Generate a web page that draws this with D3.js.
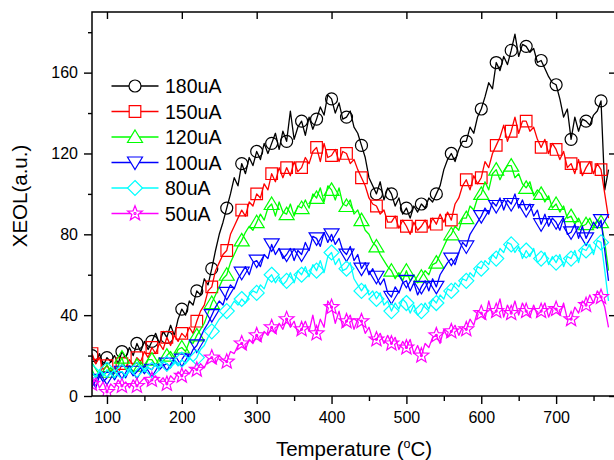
<!DOCTYPE html>
<html>
<head>
<meta charset="utf-8">
<script src="https://cdn.jsdelivr.net/npm/d3@7"></script>
<style>
  body { margin: 0; background: #fff; }
  svg { display: block; }
  text { font-family: "Liberation Sans", Arial, sans-serif; fill: #000; }
</style>
</head>
<body>
<svg id="chart" width="614" height="460"></svg>
<script>
// Temperature grid (°C), one reading every 5 degrees
const temperature = d3.range(80, 771, 5);

// XEOL intensity (a.u.) per beam current
const i180 = [20,16,21,15,19,17,20,16,22,19,
  24,20,26,22,27,23,27,31,26,32,
  29,35,30,38,43,40,47,45,52,50,
  58,55,63,72,80,86,93,100,108,104,
  115,110,118,114,121,117,125,120,125,130,
  122,131,126,141,127,133,136,129,138,132,
  137,143,139,149,147,140,145,137,138,141,
  133,130,124,118,108,104,100,106,97,103,
  100,94,98,90,93,88,94,91,95,93,
  98,96,100,104,112,117,120,116,122,126,
  126,133,130,138,142,148,155,152,165,161,
  168,164,171,179,168,174,173,170,172,165,
  166,162,158,155,154,147,138,142,127,138,
  131,137,136,134,139,141,146,102,112];

const i150 = [21,16,19,13,15,12,14,11,16,14,
  18,15,19,17,22,19,24,21,26,23,
  29,25,30,27,31,29,34,31,37,42,
  45,52,54,62,66,70,72,80,84,88,
  92,89,96,94,100,98,105,102,110,106,
  113,108,113,109,116,111,113,118,115,121,
  123,116,125,118,119,122,116,121,120,115,
  117,112,108,104,98,95,94,90,92,86,
  86,89,83,87,84,80,86,82,84,87,
  83,88,85,90,86,91,87,95,98,104,
  107,102,109,105,108,116,113,120,124,128,
  134,126,131,138,130,136,136,131,133,127,
  123,127,120,125,122,117,121,113,115,110,
  117,109,113,116,110,115,112,100,88];

const i120 = [13,9,12,10,12,14,11,15,19,13,
  15,12,15,17,14,18,18,15,19,17,
  20,22,19,23,24,22,27,26,30,33,
  36,41,46,50,54,58,60,66,70,74,
  77,81,84,82,86,90,87,93,95,89,
  96,91,90,95,89,94,93,97,93,100,
  98,103,96,104,102,97,103,95,94,97,
  90,92,87,82,80,76,74,70,67,64,
  62,58,61,57,62,57,60,56,59,62,
  60,65,66,70,74,78,80,84,82,88,
  88,94,92,98,100,106,102,110,112,107,
  111,114,114,108,110,105,103,106,99,102,
  100,96,99,93,95,91,94,88,89,85,
  88,84,85,88,84,87,86,76,62];

const i100 = [8,4,10,7,9,12,8,11,12,9,
  13,10,12,14,11,14,13,16,13,15,
  16,14,18,15,18,21,19,23,25,29,
  33,36,40,44,47,45,51,55,53,58,
  61,64,60,66,67,64,70,68,75,70,
  73,68,70,73,67,72,70,76,72,79,
  78,74,81,76,80,75,78,72,70,74,
  67,70,63,66,60,63,59,55,58,51,
  49,54,51,56,57,52,56,50,54,57,
  52,58,54,60,63,66,68,65,71,76,
  74,80,83,86,89,93,90,96,94,98,
  92,97,95,100,93,97,92,95,89,92,
  85,90,84,88,86,82,88,80,81,85,
  78,84,78,82,86,83,87,72,57];

const i80 = [12,9,13,10,13,11,9,12,12,10,
  14,11,13,15,12,14,13,16,14,17,
  16,14,17,15,18,16,19,17,19,23,
  25,29,32,35,38,40,42,44,47,45,
  48,46,50,52,51,55,53,58,60,56,
  59,55,57,61,56,62,60,64,59,65,
  62,67,61,69,71,65,68,62,63,66,
  58,55,52,55,50,52,48,51,45,47,
  42,46,43,48,46,41,45,40,42,46,
  43,48,46,50,48,53,52,56,54,58,
  57,61,59,64,63,67,65,70,68,73,
  71,76,75,71,74,68,72,69,73,66,
  68,71,65,69,66,70,64,69,68,72,
  66,73,72,75,70,77,76,62,47];

const i50 = [6,9,4,7,2,6,4,8,5,7,
  4,8,5,7,9,6,8,10,7,9,
  6,10,8,12,10,13,11,14,13,16,
  14,18,19,16,20,18,17,22,21,25,
  26,23,28,26,30,27,32,30,34,31,
  36,33,38,34,37,31,33,37,32,40,
  31,38,34,47,44,36,42,34,37,40,
  33,38,37,31,34,28,28,31,26,30,
  26,29,23,27,24,28,21,25,20,26,
  24,29,30,26,33,29,32,35,30,34,
  33,38,35,42,41,38,47,40,42,48,
  39,45,41,47,40,46,42,39,45,40,
  42,46,39,44,43,40,46,38,38,44,
  41,47,45,50,46,52,49,44,34];

const seriesNames = ["180uA", "150uA", "120uA", "100uA", "80uA", "50uA"];
const seriesValues = [i180, i150, i120, i100, i80, i50];
const seriesColors = ["#000000", "#ff0000", "#00ff00", "#0000ff", "#00ffff", "#ff00ff"];
const seriesMarkers = ["circle", "square", "triangleUp", "triangleDown", "diamond", "star"];

const xMajorTicks = [100, 200, 300, 400, 500, 600, 700];
const xMinorTicks = [150, 250, 350, 450, 550, 650, 750];
const yMajorTicks = [0, 40, 80, 120, 160];
const yMinorTicks = [20, 60, 100, 140, 180];
const markerEvery = 20; // one symbol every 20 °C

const svg = d3.select("#chart");
const plot = { left: 92, right: 616, top: 12, bottom: 396 };

const x = d3.scaleLinear().domain([80, 780]).range([plot.left, plot.right]);
const y = d3.scaleLinear().domain([0, 190]).range([plot.bottom, plot.top]);

// marker shapes, centred on the data point
function markerPath(kind) {
  const p = d3.path();
  if (kind === "circle") {
    p.moveTo(6, 0); p.arc(0, 0, 6, 0, 2 * Math.PI);
  } else if (kind === "square") {
    p.rect(-5.8, -5.8, 11.6, 11.6);
  } else if (kind === "triangleUp") {
    p.moveTo(0, -7); p.lineTo(7.5, 5.5); p.lineTo(-7.5, 5.5); p.closePath();
  } else if (kind === "triangleDown") {
    p.moveTo(0, 7); p.lineTo(7.5, -5.5); p.lineTo(-7.5, -5.5); p.closePath();
  } else if (kind === "diamond") {
    p.moveTo(0, -7.5); p.lineTo(7.5, 0); p.lineTo(0, 7.5); p.lineTo(-7.5, 0); p.closePath();
  } else if (kind === "star") {
    for (let k = 0; k < 10; k++) {
      const r = k % 2 === 0 ? 7.8 : 3.3;
      const a = -Math.PI / 2 + k * Math.PI / 5;
      const px = r * Math.cos(a), py = r * Math.sin(a);
      if (k === 0) p.moveTo(px, py); else p.lineTo(px, py);
    }
    p.closePath();
    p.moveTo(1, 0); p.arc(0, 0, 1, 0, 2 * Math.PI);
  }
  return p.toString();
}

svg.append("defs").append("clipPath").attr("id", "plot-clip")
  .append("rect")
  .attr("x", plot.left).attr("y", plot.top)
  .attr("width", plot.right - plot.left).attr("height", plot.bottom - plot.top);

const dataLayer = svg.append("g").attr("clip-path", "url(#plot-clip)");

const line = d3.line()
  .x(d => x(d.t))
  .y(d => y(d.v));

seriesNames.forEach((name, i) => {
  const pts = temperature.map((t, j) => ({ t, v: seriesValues[i][j] }));
  const g = dataLayer.append("g").attr("class", "series");
  g.append("path")
    .datum(pts)
    .attr("d", line)
    .attr("fill", "none")
    .attr("stroke", seriesColors[i])
    .attr("stroke-width", 1.3)
    .attr("stroke-linejoin", "round");
  g.selectAll("path.marker")
    .data(pts.filter(d => d.t % markerEvery === 0))
    .join("path")
    .attr("class", "marker")
    .attr("transform", d => `translate(${x(d.t)},${y(d.v)})`)
    .attr("d", markerPath(seriesMarkers[i]))
    .attr("fill", "none")
    .attr("stroke", seriesColors[i])
    .attr("stroke-width", 1.2);
});

// axes
const tickFont = "16px";
svg.append("g")
  .attr("transform", `translate(0,${plot.bottom})`)
  .call(d3.axisBottom(x).tickValues(xMajorTicks).tickSize(8).tickSizeOuter(0).tickPadding(8));
svg.append("g")
  .attr("transform", `translate(0,${plot.bottom})`)
  .call(d3.axisBottom(x).tickValues(xMinorTicks).tickSize(5).tickSizeOuter(0).tickFormat(""));
svg.append("g")
  .attr("transform", `translate(${plot.left},0)`)
  .call(d3.axisLeft(y).tickValues(yMajorTicks).tickSize(8).tickSizeOuter(0).tickPadding(6));
svg.append("g")
  .attr("transform", `translate(${plot.left},0)`)
  .call(d3.axisLeft(y).tickValues(yMinorTicks).tickSize(4).tickSizeOuter(0).tickFormat(""));
svg.append("g")
  .attr("transform", `translate(0,${plot.top})`)
  .call(d3.axisTop(x).tickValues(xMajorTicks).tickSize(-7).tickSizeOuter(0).tickFormat(""));
svg.append("g")
  .attr("transform", `translate(${plot.right},0)`)
  .call(d3.axisRight(y).tickValues(yMajorTicks).tickSize(-7).tickSizeOuter(0).tickFormat(""));

svg.selectAll(".domain").remove();
svg.selectAll(".tick line").attr("stroke", "#000").attr("stroke-width", 1.4);
svg.selectAll(".tick text")
  .style("font-family", "'Liberation Sans', Arial, sans-serif")
  .style("font-size", tickFont)
  .attr("fill", "#000");

// frame
svg.append("rect")
  .attr("x", plot.left).attr("y", plot.top)
  .attr("width", plot.right - plot.left).attr("height", plot.bottom - plot.top)
  .attr("fill", "none").attr("stroke", "#000").attr("stroke-width", 1.5);

// axis titles
const xTitle = svg.append("text")
  .attr("x", (plot.left + plot.right) / 2).attr("y", 456)
  .attr("text-anchor", "middle")
  .style("font-size", "20.5px");
xTitle.append("tspan").text("Temperature (");
xTitle.append("tspan").attr("dy", -8).style("font-size", "12.5px").text("o");
xTitle.append("tspan").attr("dy", 8).text("C)");

svg.append("text")
  .attr("transform", "translate(27,196) rotate(-90)")
  .attr("text-anchor", "middle")
  .style("font-size", "20.5px")
  .text("XEOL(a.u.)");

// legend
const legend = svg.append("g");
seriesNames.forEach((name, i) => {
  const cy = 86 + i * 25.5;
  legend.append("line")
    .attr("x1", 111.5).attr("x2", 158.5).attr("y1", cy).attr("y2", cy)
    .attr("stroke", seriesColors[i]).attr("stroke-width", 1.4);
  legend.append("path")
    .attr("transform", `translate(135,${cy})`)
    .attr("d", markerPath(seriesMarkers[i]))
    .attr("fill", "#fff")
    .attr("stroke", seriesColors[i])
    .attr("stroke-width", 1.2);
  legend.append("text")
    .attr("x", 165).attr("y", cy + 7)
    .style("font-size", "19.5px")
    .text(name);
});
</script>
</body>
</html>
